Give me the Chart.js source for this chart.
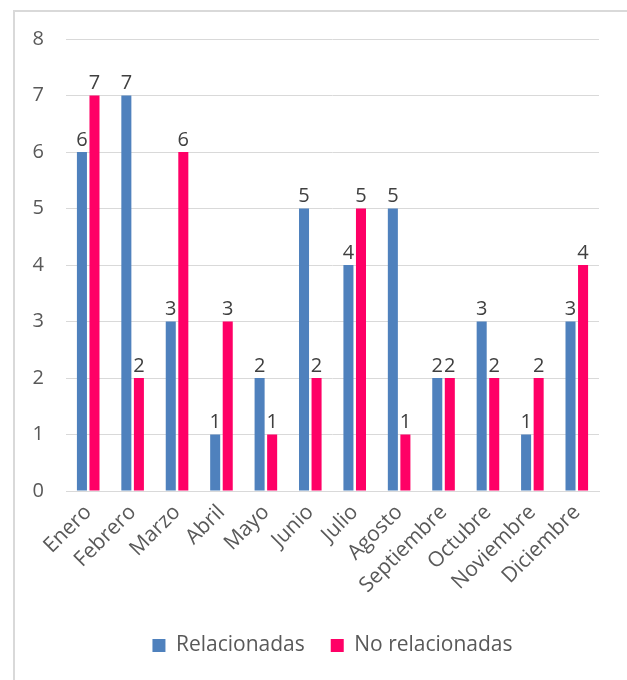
<!DOCTYPE html>
<html>
<head>
<meta charset="utf-8">
<script src="https://cdn.jsdelivr.net/npm/chart.js@4.4.0/dist/chart.umd.min.js"></script>
<style>
  html, body { margin: 0; padding: 0; background: #fff; }
  #wrap { width: 627px; height: 680px; position: relative; }
</style>
</head>
<body>
<div id="wrap"><canvas id="mesesChart" width="627" height="680"></canvas></div>
<script>
// Casos por mes
const meses = ['Enero', 'Febrero', 'Marzo', 'Abril', 'Mayo', 'Junio', 'Julio', 'Agosto', 'Septiembre', 'Octubre', 'Noviembre', 'Diciembre'];
const relacionadas = [6, 7, 3, 1, 2, 5, 4, 5, 2, 3, 1, 3];
const noRelacionadas = [7, 2, 6, 3, 1, 2, 5, 1, 2, 2, 2, 4];
const yTicks = [0, 1, 2, 3, 4, 5, 6, 7, 8];

const fuente = '"Open Sans", "Liberation Sans", sans-serif';

// marco gris del grafico
const marco = {
    id: 'marco',
    beforeDraw(chart) {
        const ctx = chart.ctx;
        ctx.save();
        ctx.strokeStyle = '#d9d9d9';
        ctx.lineWidth = 2;
        ctx.beginPath();
        ctx.moveTo(14, 680);
        ctx.lineTo(14, 11);
        ctx.lineTo(627, 11);
        ctx.stroke();
        ctx.restore();
    }
};

// centra la leyenda bajo el area de barras
const centrarLeyenda = {
    id: 'centrarLeyenda',
    afterLayout(chart) {
        const lg = chart.legend;
        const dx = (chart.chartArea.left + chart.chartArea.right) / 2 - (lg.left + lg.right) / 2;
        lg.left += dx;
        lg.right += dx;
    }
};

// valores encima de cada barra
const etiquetas = {
    id: 'etiquetas',
    afterDatasetsDraw(chart) {
        const ctx = chart.ctx;
        ctx.save();
        ctx.fillStyle = '#404040';
        ctx.font = '20px ' + fuente;
        ctx.textAlign = 'center';
        ctx.textBaseline = 'bottom';
        chart.data.datasets.forEach((ds, i) => {
            chart.getDatasetMeta(i).data.forEach((bar, j) => {
                ctx.fillText(String(ds.data[j]), bar.x, bar.y - 2);
            });
        });
        ctx.restore();
    }
};

const ctx = document.getElementById('mesesChart').getContext('2d');
const mesesChart = new Chart(ctx, {
    type: 'bar',
    data: {
        labels: meses,
        datasets: [
            {
                label: 'Relacionadas',
                data: relacionadas,
                backgroundColor: '#4F81BD',
                borderWidth: 0,
                categoryPercentage: 0.565,
                barPercentage: 0.8
            },
            {
                label: 'No relacionadas',
                data: noRelacionadas,
                backgroundColor: '#FF0066',
                borderWidth: 0,
                categoryPercentage: 0.565,
                barPercentage: 0.8
            }
        ]
    },
    options: {
        responsive: false,
        animation: false,
        layout: { padding: { left: 14, right: 28, top: 39, bottom: 14 } },
        plugins: {
            legend: {
                position: 'bottom',
                labels: {
                    color: '#595959',
                    font: { family: fuente, size: 21 },
                    boxWidth: 13,
                    boxHeight: 13,
                    padding: 26
                }
            },
            tooltip: { enabled: false }
        },
        scales: {
            y: {
                min: 0,
                max: 8,
                afterBuildTicks: scale => { scale.ticks = yTicks.map(v => ({ value: v })); },
                afterFit: scale => { scale.width = 52; },
                ticks: { color: '#595959', font: { family: fuente, size: 20 }, padding: 22 },
                grid: { color: '#d9d9d9', drawTicks: false },
                border: { display: false }
            },
            x: {
                afterFit: scale => { scale.height = 118; },
                ticks: {
                    color: '#595959',
                    font: { family: fuente, size: 21 },
                    minRotation: 45,
                    maxRotation: 45,
                    padding: 9
                },
                grid: { display: false, drawTicks: false },
                border: { color: '#d9d9d9' }
            }
        }
    },
    plugins: [marco, centrarLeyenda, etiquetas]
});
</script>
</body>
</html>
